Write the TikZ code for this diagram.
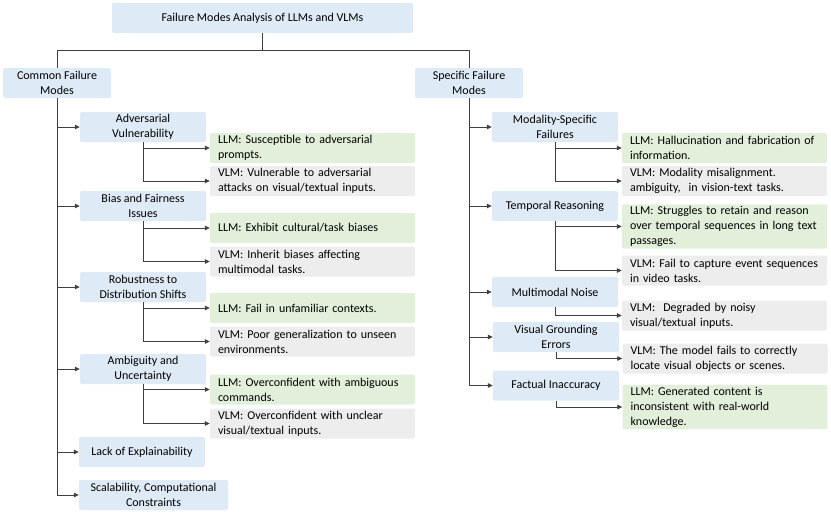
\documentclass[tikz,border=0pt]{standalone}
\usepackage{fontspec}
\setmainfont{Carlito}
\usetikzlibrary{arrows.meta}

\definecolor{boxblue}{HTML}{DEEBF7}
\definecolor{boxgreen}{HTML}{E2EFDA}
\definecolor{boxgray}{HTML}{EDEDED}
\definecolor{linegray}{HTML}{404040}

\begin{document}
\begin{tikzpicture}[x=1pt,y=-1pt,
  font=\fontsize{12}{15}\selectfont,
  topic/.style={fill=boxblue, rounded corners=2pt, align=center, minimum height=30pt, inner sep=2pt},
  llm/.style={fill=boxgreen, rounded corners=2pt, text width=189pt, align=left, inner xsep=8pt, inner ysep=2pt, minimum height=30pt},
  vlm/.style={llm, fill=boxgray},
  link/.style={draw=linegray, line width=0.8pt},
  arr/.style={link, -{Triangle[length=5pt,width=4.5pt]}}]

\useasboundingbox (0,0) rectangle (831,512);

% root
\node[topic, minimum width=301pt] (title) at (262.5,18) {Failure Modes Analysis of LLMs and VLMs};
\coordinate (split) at (262.5,50);

\node[topic, minimum width=108pt] (common) at (57,83) {Common Failure\\Modes};
\node[topic, minimum width=108pt] (specific) at (469,83) {Specific Failure\\Modes};

\draw[link] (title.south) -- (title.south |- split) -| (common.north);
\draw[link] (title.south |- split) -| (specific.north);

% common failure modes
\node[topic, minimum width=126pt] (adv) at (143,127) {Adversarial\\Vulnerability};
\node[topic, minimum width=126pt] (bias) at (143,206) {Bias and Fairness\\Issues};
\node[topic, minimum width=126pt] (rob) at (143,287) {Robustness to\\Distribution Shifts};
\node[topic, minimum width=126pt] (amb) at (143,369) {Ambiguity and\\Uncertainty};
\node[topic, minimum width=126pt] (lack) at (142,452) {Lack of Explainability};
\node[topic, minimum width=149pt] (scal) at (153.5,495) {Scalability, Computational\\Constraints};

\node[llm] (advL) at (312.5,148) {LLM: Susceptible to adversarial\\prompts.};
\node[vlm] (advV) at (312.5,181) {VLM: Vulnerable to adversarial\\attacks on visual/textual inputs.};
\node[llm] (biasL) at (312.5,228) {LLM: Exhibit cultural/task biases};
\node[vlm] (biasV) at (312.5,261.5) {VLM: Inherit biases affecting\\multimodal tasks.};
\node[llm] (robL) at (312.5,308) {LLM: Fail in unfamiliar contexts.};
\node[vlm] (robV) at (312.5,341.5) {VLM: Poor generalization to unseen\\environments.};
\node[llm] (ambL) at (312.5,389.5) {LLM: Overconfident with ambiguous\\commands.};
\node[vlm] (ambV) at (312.5,423.5) {VLM: Overconfident with unclear\\visual/textual inputs.};

\foreach \t in {adv,bias,rob,amb,lack,scal}
  \draw[arr] (common.south) |- (\t.west);
\foreach \t in {adv,bias,rob,amb} {
  \draw[arr] (\t.south) |- (\t L.west);
  \draw[arr] (\t.south) |- (\t V.west);
}

% specific failure modes
\node[topic, minimum width=126pt] (mod) at (555,127) {Modality-Specific\\Failures};
\node[topic, minimum width=126pt] (temp) at (555,206) {Temporal Reasoning};
\node[topic, minimum width=126pt] (noise) at (555,292) {Multimodal Noise};
\node[topic, minimum width=126pt] (vis) at (556,337) {Visual Grounding\\Errors};
\node[topic, minimum width=126pt] (fact) at (556,385.5) {Factual Inaccuracy};

\node[llm] (modL) at (724.5,148) {LLM: Hallucination and fabrication of\\information.};
\node[vlm] (modV) at (724.5,181) {VLM: Modality misalignment.\\ambiguity,~ in vision-text tasks.};
\node[llm] (tempL) at (724.5,226.5) {LLM: Struggles to retain and reason\\over temporal sequences in long text\\passages.};
\node[vlm] (tempV) at (724.5,270.5) {VLM: Fail to capture event sequences\\in video tasks.};
\node[vlm] (noiseV) at (724.5,315.5) {VLM:~ Degraded by noisy\\visual/textual inputs.};
\node[vlm] (visV) at (725,358.5) {VLM: The model fails to correctly\\locate visual objects or scenes.};
\node[llm] (factL) at (725,407) {LLM: Generated content is\\inconsistent with real-world\\knowledge.};

\foreach \t in {mod,temp,noise,vis,fact}
  \draw[arr] (specific.south) |- (\t.west);
\foreach \t in {mod,temp} {
  \draw[arr] (\t.south) |- (\t L.west);
  \draw[arr] (\t.south) |- (\t V.west);
}
\draw[arr] (noise.south) |- (noiseV.west);
\draw[arr] (vis.south) |- (visV.west);
\draw[arr] (fact.south) |- (factL.west);

\end{tikzpicture}
\end{document}
